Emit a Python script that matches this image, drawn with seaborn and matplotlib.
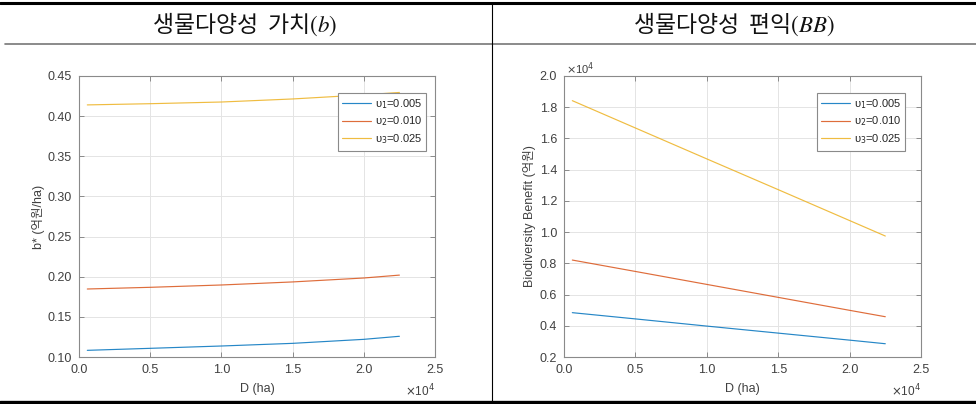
import numpy as np
import pandas as pd
import matplotlib
matplotlib.use("Agg")
import matplotlib.pyplot as plt
from matplotlib.lines import Line2D
from matplotlib.ticker import FuncFormatter, MultipleLocator
import seaborn as sns

# Land area D (ha)
area_ha = [583, 5000, 10000, 15000, 20000, 22500]

# Biodiversity value b* (억원/ha) for each discount setting
b_u1 = [0.1083, 0.1108, 0.1137, 0.1170, 0.1220, 0.1258]
b_u2 = [0.1847, 0.1868, 0.1897, 0.1935, 0.1984, 0.2020]
b_u3 = [0.4140, 0.4155, 0.4176, 0.4214, 0.4265, 0.4295]

# Biodiversity benefit (억원)
bb_u1 = [4840, 4440, 3980, 3530, 3080, 2850]
bb_u2 = [8210, 7480, 6650, 5820, 4990, 4580]
bb_u3 = [18420, 16670, 14690, 12720, 10740, 9750]

series_labels = ["υ$_1$=0.005", "υ$_2$=0.010", "υ$_3$=0.025"]
colors = ["#0072BD", "#D95319", "#EDB120"]


def long_frame(values):
    rows = []
    for lab, vals in zip(series_labels, values):
        for d, v in zip(area_ha, vals):
            rows.append({"D": d, "value": v, "series": lab})
    return pd.DataFrame(rows)


df_b = long_frame([b_u1, b_u2, b_u3])
df_bb = long_frame([bb_u1, bb_u2, bb_u3])

sns.set_theme(style="white")
plt.rcParams["font.family"] = ["Liberation Sans", "Noto Sans CJK KR", "DejaVu Sans"]
plt.rcParams["axes.unicode_minus"] = False
plt.rcParams["mathtext.fontset"] = "dejavusans"

W, H = 976, 404
fig = plt.figure(figsize=(W / 100, H / 100), dpi=100)
fig.patch.set_facecolor("white")

ax_l = fig.add_axes([79 / W, 1 - 357 / H, 356 / W, 281 / H])
ax_r = fig.add_axes([564 / W, 1 - 357 / H, 357 / W, 281 / H])

tick_col = "#404040"
box_col = "#8a8a8a"


def style_axes(ax):
    ax.set_facecolor("white")
    for s in ax.spines.values():
        s.set_visible(True)
        s.set_color(box_col)
        s.set_linewidth(0.8)
    ax.grid(True, color="#e4e4e4", linewidth=0.7)
    ax.set_axisbelow(True)
    ax.tick_params(direction="in", length=3.5, width=0.7, color=box_col,
                   labelcolor=tick_col, labelsize=9, pad=5,
                   top=True, right=True, bottom=True, left=True)
    ax.set_xlim(0, 25000)
    ax.xaxis.set_major_locator(MultipleLocator(5000))
    ax.xaxis.set_major_formatter(FuncFormatter(lambda v, p: f"{v / 1e4:.1f}"))
    ax.set_xlabel("D (ha)", fontsize=9, color=tick_col, labelpad=5)
    ax.text(1.0, -0.09, r"$\times$10$^{4}$", transform=ax.transAxes,
            ha="right", va="top", fontsize=8.5, color=tick_col)


for ax, df in [(ax_l, df_b), (ax_r, df_bb)]:
    sns.lineplot(data=df, x="D", y="value", hue="series", hue_order=series_labels,
                 palette=colors, linewidth=0.85, alpha=0.85, ax=ax)
    style_axes(ax)

# left panel: b*
ax_l.set_ylim(0.10, 0.45)
ax_l.yaxis.set_major_locator(MultipleLocator(0.05))
ax_l.yaxis.set_major_formatter(FuncFormatter(lambda v, p: f"{v:.2f}"))
ax_l.set_ylabel("b* (억원/ha)", fontsize=9, color=tick_col, labelpad=2)

# right panel: biodiversity benefit
ax_r.set_ylim(2000, 20000)
ax_r.yaxis.set_major_locator(MultipleLocator(2000))
ax_r.yaxis.set_major_formatter(FuncFormatter(lambda v, p: f"{v / 1e4:.1f}"))
ax_r.set_ylabel("Biodiversity Benefit (억원)", fontsize=9, color=tick_col, labelpad=3)
ax_r.text(0.005, 0.998, r"$\times$10$^{4}$", transform=ax_r.transAxes,
          ha="left", va="bottom", fontsize=8, color=tick_col)

for ax, anchor in [(ax_l, (0.9916, 0.961)), (ax_r, (0.972, 0.961))]:
    leg = ax.legend(loc="upper right", bbox_to_anchor=anchor, fontsize=8,
                    frameon=True, fancybox=False, framealpha=1, edgecolor="#8a8a8a",
                    handlelength=2.6, handletextpad=0.3, borderpad=0.4,
                    labelspacing=0.35, title=None)
    leg.get_frame().set_linewidth(0.8)
    for t in leg.get_texts():
        t.set_color("#262626")

# table-style header and rules
fig.text(245 / W, 1 - 24 / H, "생물다양성  가치$(b)$", ha="center", va="center",
         fontsize=16.5, family=["Noto Sans CJK KR"], math_fontfamily="stix", color="#111111")
fig.text(734 / W, 1 - 24 / H, "생물다양성  편익$(BB)$", ha="center", va="center",
         fontsize=16.5, family=["Noto Sans CJK KR"], math_fontfamily="stix", color="#111111")

fig.add_artist(Line2D([0, 1], [1 - 2.5 / H, 1 - 2.5 / H], transform=fig.transFigure,
                      color="black", linewidth=2.2))
fig.add_artist(Line2D([5 / W, 1], [1 - 43.5 / H, 1 - 43.5 / H], transform=fig.transFigure,
                      color="#777777", linewidth=1.2))
fig.add_artist(Line2D([0, 1], [1 - 402 / H, 1 - 402 / H], transform=fig.transFigure,
                      color="black", linewidth=2.4))
fig.add_artist(Line2D([491.5 / W, 491.5 / W], [1 - 402 / H, 1 - 2.5 / H],
                      transform=fig.transFigure, color="black", linewidth=0.8))

fig.savefig("out.png", dpi=100, facecolor="white")
